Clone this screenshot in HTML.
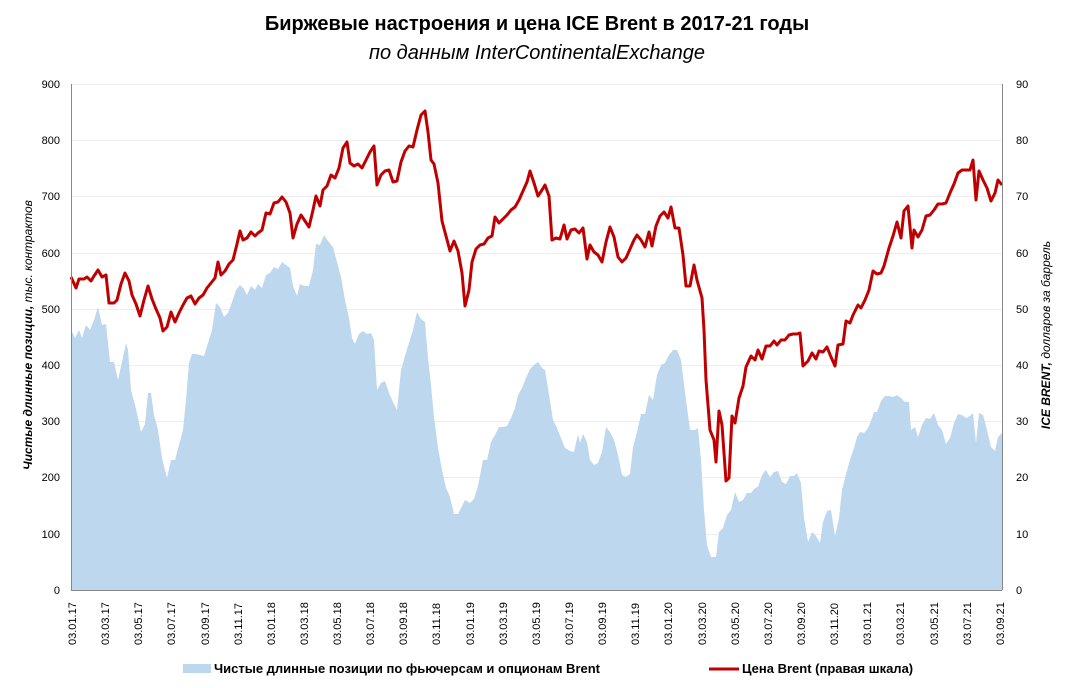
<!DOCTYPE html><html><head><meta charset="utf-8"><style>body{margin:0;background:#fff;}svg{display:block}</style></head><body>
<svg width="1073" height="688" xmlns="http://www.w3.org/2000/svg" font-family="Liberation Sans, sans-serif">
<rect width="1073" height="688" fill="#fff"/>
<text x="537" y="30" text-anchor="middle" font-size="20" font-weight="bold" fill="#000">Биржевые настроения и цена ICE Brent в 2017-21 годы</text>
<text x="537" y="59" text-anchor="middle" font-size="20" font-style="italic" fill="#000">по данным InterContinentalExchange</text>
<g stroke="#eeeeee" stroke-width="1">
<line x1="71" y1="84.5" x2="1002" y2="84.5"/><line x1="71" y1="140.5" x2="1002" y2="140.5"/><line x1="71" y1="196.5" x2="1002" y2="196.5"/><line x1="71" y1="253.5" x2="1002" y2="253.5"/><line x1="71" y1="309.5" x2="1002" y2="309.5"/><line x1="71" y1="365.5" x2="1002" y2="365.5"/><line x1="71" y1="421.5" x2="1002" y2="421.5"/><line x1="71" y1="477.5" x2="1002" y2="477.5"/><line x1="71" y1="534.5" x2="1002" y2="534.5"/>
</g>
<polygon fill="#bdd7ee" points="71,330 75,338 79,330 82,338 86,325 90,330 94,320 98,307 102,325 106,324 110,362 114,362 118,380 122,362 126,343 128,350 131,390 135,405 138,418 141,432 145,424 148,393 151,393 154,415 158,430 162,458 167,478 171,460 175,460 179,445 183,430 186,400 189,363 192,354 196,354 200,355 204,356 208,343 212,330 216,303 220,307 224,317 228,313 232,302 236,290 240,285 244,289 247,295 251,286 255,290 258,284 262,288 266,275 270,273 274,267 278,269 282,262 286,265 290,268 293,286 297,296 300,284 304,286 309,286 313,270 316,244 320,245 324,235 328,241 333,247 337,262 341,277 345,300 349,318 352,338 355,344 359,334 363,331 367,334 371,333 374,340 377,390 381,383 385,381 389,393 393,402 397,410 401,370 405,356 409,343 413,330 417,312 421,319 425,322 428,358 431,385 434,417 438,448 442,470 446,488 450,497 454,514 458,514 462,506 465,500 470,503 474,499 478,486 483,460 487,460 491,442 495,435 499,427 503,427 507,426 511,418 515,408 518,395 522,388 526,378 530,369 534,365 538,362 542,368 545,370 549,395 553,420 557,428 561,438 565,448 570,451 574,452 578,434 580,443 583,434 587,442 590,460 594,465 598,463 602,452 606,427 610,432 614,440 618,455 622,475 626,477 630,474 633,447 637,432 641,414 645,414 649,395 653,400 657,375 661,365 665,363 669,355 673,350 677,350 681,360 686,400 690,430 695,430 698,428 701,460 704,510 707,545 711,557 716,557 719,532 723,528 727,515 731,510 735,492 739,502 743,500 747,493 751,493 755,488 758,487 762,475 766,470 770,477 774,472 778,471 782,482 786,484 790,476 794,476 797,473 801,483 804,518 808,542 812,532 816,536 820,543 823,522 827,511 831,510 835,536 839,518 842,490 846,474 850,460 854,448 857,437 860,432 864,433 868,428 871,421 874,412 877,412 881,401 885,396 889,396 893,397 897,395 901,398 905,402 909,402 911,430 915,427 918,437 922,425 926,418 930,419 934,413 938,425 942,430 946,444 950,438 954,423 958,414 962,415 966,418 970,416 973,413 976,443 979,413 983,415 987,430 991,447 995,451 998,437 1002,433 1002,590 71,590"/>
<polyline fill="none" stroke="#c00000" stroke-width="3" stroke-linejoin="round" points="71,277 76,288 79,279 84,279 87,277 91,281 94,276 98,270 102,277 106,275 109,303 114,303 117,300 121,284 125,273 129,281 132,295 136,304 140,316 144,300 148,286 152,299 156,309 160,318 163,331 167,327 171,312 175,322 179,313 183,305 187,298 191,296 195,304 199,298 203,295 207,288 211,283 215,278 218,262 221,275 225,271 229,264 233,260 237,244 240,231 243,240 247,238 251,232 255,236 258,233 262,230 266,213 270,214 274,203 278,202 282,197 286,202 290,213 293,238 297,224 301,215 305,221 309,227 313,210 316,196 320,206 323,190 327,186 331,175 335,178 339,168 343,148 347,142 350,163 354,166 358,164 362,168 366,160 370,152 374,146 377,185 381,175 385,171 389,170 393,182 397,181 401,162 405,151 409,146 413,147 417,130 421,115 425,111 428,132 431,160 434,164 438,183 442,221 446,236 450,251 454,241 458,251 462,273 465,306 469,290 472,262 476,249 480,245 484,244 488,238 492,236 495,217 499,223 503,219 507,215 511,210 515,207 519,200 523,191 527,182 530,171 534,183 538,196 542,190 545,185 549,196 552,240 556,238 560,239 564,225 567,239 571,230 575,229 579,233 583,228 587,259 590,245 594,252 598,255 602,262 606,242 610,227 614,237 618,257 622,262 626,258 630,249 634,240 637,235 641,240 645,247 649,232 652,246 656,226 660,216 664,212 668,218 671,207 675,228 679,228 683,255 686,286 690,286 694,265 697,280 702,298 704,330 706,380 710,430 714,440 716,462 719,411 722,425 726,481 729,478 732,416 735,423 739,398 743,386 746,367 751,356 755,360 758,350 762,359 766,346 770,346 774,341 777,345 781,340 785,340 789,335 793,334 797,334 800,333 803,366 808,361 812,353 816,359 819,351 823,352 827,347 831,357 835,366 838,345 843,344 846,321 850,323 853,315 858,305 861,308 865,300 869,290 873,271 877,274 881,273 884,266 889,248 893,236 897,222 901,238 904,211 908,206 912,248 914,230 918,237 922,230 926,216 930,215 934,210 938,204 942,204 946,203 950,193 954,184 958,173 962,170 966,170 970,170 973,160 976,200 979,171 983,180 987,188 991,201 995,193 998,180 1002,185"/>
<g stroke="#888" stroke-width="1" fill="none"><line x1="71.5" y1="84" x2="71.5" y2="590"/><line x1="1002.5" y1="84" x2="1002.5" y2="590"/><line x1="71" y1="590.5" x2="1002" y2="590.5"/></g>
<g font-size="11" fill="#000" text-anchor="end">
<text x="60" y="88">900</text><text x="60" y="144">800</text><text x="60" y="200">700</text><text x="60" y="257">600</text><text x="60" y="313">500</text><text x="60" y="369">400</text><text x="60" y="425">300</text><text x="60" y="481">200</text><text x="60" y="538">100</text><text x="60" y="594">0</text>
</g>
<g font-size="11" fill="#000" text-anchor="start">
<text x="1016" y="88">90</text><text x="1016" y="144">80</text><text x="1016" y="200">70</text><text x="1016" y="257">60</text><text x="1016" y="313">50</text><text x="1016" y="369">40</text><text x="1016" y="425">30</text><text x="1016" y="481">20</text><text x="1016" y="538">10</text><text x="1016" y="594">0</text>
</g>
<text transform="translate(32,335) rotate(-90)" text-anchor="middle" font-size="12" font-weight="bold" font-style="italic">Чистые длинные позиции, <tspan font-weight="normal">тыс. контрактов</tspan></text>
<text transform="translate(1050,335) rotate(-90)" text-anchor="middle" font-size="12" font-weight="bold" font-style="italic">ICE BRENT, <tspan font-weight="normal">долларов за баррель</tspan></text>
<g font-size="11" fill="#000" id="xl"></g>
<g font-size="11" fill="#000">
<text transform="translate(76,645) rotate(-90)">03.01.17</text><text transform="translate(109,645) rotate(-90)">03.03.17</text><text transform="translate(142,645) rotate(-90)">03.05.17</text><text transform="translate(175,645) rotate(-90)">03.07.17</text><text transform="translate(209,645) rotate(-90)">03.09.17</text><text transform="translate(242,645) rotate(-90)">03.11.17</text><text transform="translate(275,645) rotate(-90)">03.01.18</text><text transform="translate(308,645) rotate(-90)">03.03.18</text><text transform="translate(341,645) rotate(-90)">03.05.18</text><text transform="translate(374,645) rotate(-90)">03.07.18</text><text transform="translate(407,645) rotate(-90)">03.09.18</text><text transform="translate(440,645) rotate(-90)">03.11.18</text><text transform="translate(474,645) rotate(-90)">03.01.19</text><text transform="translate(507,645) rotate(-90)">03.03.19</text><text transform="translate(540,645) rotate(-90)">03.05.19</text><text transform="translate(573,645) rotate(-90)">03.07.19</text><text transform="translate(606,645) rotate(-90)">03.09.19</text><text transform="translate(639,645) rotate(-90)">03.11.19</text><text transform="translate(672,645) rotate(-90)">03.01.20</text><text transform="translate(706,645) rotate(-90)">03.03.20</text><text transform="translate(739,645) rotate(-90)">03.05.20</text><text transform="translate(772,645) rotate(-90)">03.07.20</text><text transform="translate(805,645) rotate(-90)">03.09.20</text><text transform="translate(838,645) rotate(-90)">03.11.20</text><text transform="translate(871,645) rotate(-90)">03.01.21</text><text transform="translate(904,645) rotate(-90)">03.03.21</text><text transform="translate(938,645) rotate(-90)">03.05.21</text><text transform="translate(971,645) rotate(-90)">03.07.21</text><text transform="translate(1004,645) rotate(-90)">03.09.21</text>
</g>
<rect x="183" y="664" width="28" height="9" fill="#bdd7ee"/>
<text x="214" y="673" font-size="13" font-weight="bold">Чистые длинные позиции по фьючерсам и опционам Brent</text>
<line x1="709" y1="669" x2="739" y2="669" stroke="#c00000" stroke-width="3"/>
<text x="742" y="673" font-size="13" font-weight="bold">Цена Brent (правая шкала)</text>
</svg>
</body></html>
